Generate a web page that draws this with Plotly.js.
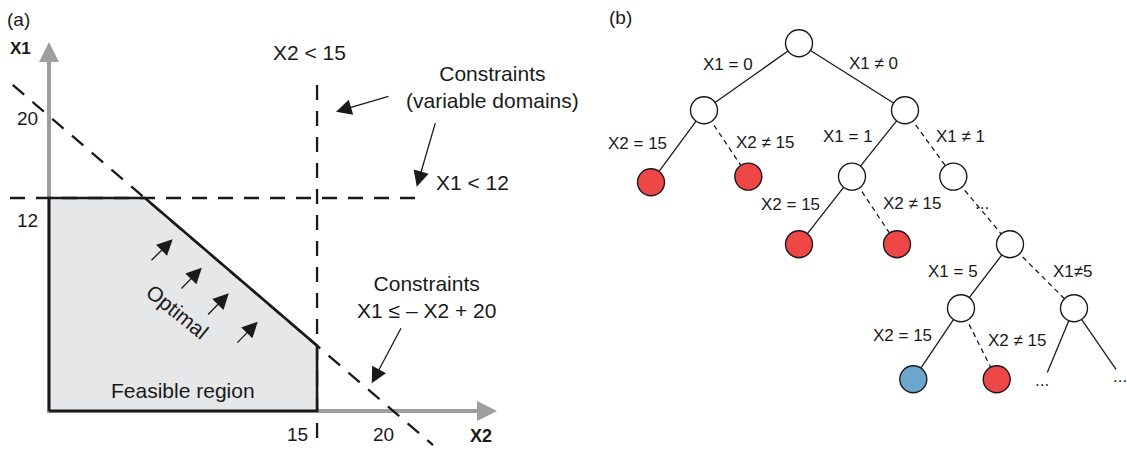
<!DOCTYPE html>
<html><head><meta charset="utf-8">
<script src="https://cdn.plot.ly/plotly-3.0.1.min.js"></script>
<style>html,body{margin:0;padding:0;background:#fff}</style>
</head><body>
<div id="chart" style="width:1127px;height:450px"></div>
<script>
// ---------- Panel (a): schematic units (X2 horizontal, X1 vertical) ----------
const feasibleX2 = [0, 0, 5.37, 15, 15, 0];
const feasibleX1 = [0, 12, 12, 3.68, 0, 0];
const limitX1_X2 = [-2.18, 21.04];   // X1 < 12 dashed line
const limitX1_X1 = [12, 12];
const limitX2_X2 = [15, 15];         // X2 < 15 dashed line
const limitX2_X1 = [18.37, -1.8];
const sumLineX2 = [-2.03, 21.49];    // X1 <= -X2 + 20 dashed line
const sumLineX1 = [18.37, -1.92];
const axisX2Line = [[-0.12, 23.6], [0, 0]];
const axisX1Line = [[0, 0], [-0.12, 19.6]];
const axisTipX2 = 25.07, axisTipX1 = 20.79;
const optTailX2 = [5.65, 7.33, 8.82, 10.46];
const optTailX1 = [8.41, 6.82, 5.35, 3.77];
const optTipX2 = [6.92, 8.55, 10.06, 11.68];
const optTipX1 = [9.67, 8.07, 6.63, 5.03];
const calloutTailX2 = [19.08, 21.64, 19.74];
const calloutTailX1 = [17.75, 16.3, 4.75];
const calloutTipX2 = [16.06, 20.58, 18.06];
const calloutTipX1 = [16.86, 12.64, 1.56];
const tickText = ['20', '12', '15', '20'];
const tickX2 = [-1.23, -1.21, 13.9, 18.71];
const tickX1 = [16.5, 10.76, -1.32, -1.32];
const labelTextA = ['X2 < 15', 'X1 < 12', 'Constraints<br>(variable domains)', 'Constraints<br>X1 ≤ – X2 + 20', 'Feasible region'];
const labelX2A = [14.6, 23.67, 24.79, 21.14, 7.47];
const labelX1A = [20.2, 12.87, 18.25, 6.42, 1.18];

// ---------- Panel (b): search tree ----------
const nodeX = [0, -95, 106, -148, -50.7, 53, 154.3, 0, 98, 211, 162, 275, 114.3, 197.7];
const nodeDepth = [0, 1, 1, 2.075, 1.99, 1.99, 1.99, 3.0, 3.0, 3.0, 3.955, 3.955, 5.015, 5.015];
const nodeState = ['open','open','open','fail','fail','open','open','fail','fail','open','open','open','solution','fail'];
const edgeFrom = [0, 0, 1, 1, 2, 2, 5, 5, 6, 9, 9, 10, 10];
const edgeTo   = [1, 2, 3, 4, 5, 6, 7, 8, 9, 10, 11, 12, 13];
const edgeDashed = [false, false, false, true, false, true, false, true, true, false, true, false, true];
const openEndFrom = [11, 11];
const openEndX = [248.3, 317];
const openEndDepth = [4.913, 4.866];
const edgeLabelText = ['X1 = 0', 'X1 ≠ 0', 'X2 = 15', 'X2 ≠ 15', 'X1 = 1', 'X1 ≠ 1', 'X2 = 15', 'X2 ≠ 15', '...', 'X1 = 5', 'X1≠5', 'X2 = 15', 'X2 ≠ 15', '...', '...'];
const edgeLabelX = [-71, 74, -162, -34, 48.5, 161, -9, 113, 183, 154, 274, 103, 218, 243, 321];
const edgeLabelDepth = [0.324, 0.3, 1.503, 1.488, 1.384, 1.384, 2.41, 2.388, 2.39, 3.41, 3.41, 4.364, 4.43, 5.03, 4.98];

const FONT = 'Liberation Sans, Arial, Helvetica, sans-serif';
const INK = '#1a1a1a';
const GRAY = '#9e9e9e';
const stateColor = {open: '#ffffff', fail: '#ef4748', solution: '#6ca6cc'};

const traces = [];
// feasible region fill
traces.push({x: feasibleX2, y: feasibleX1, xaxis: 'x', yaxis: 'y', mode: 'lines', fill: 'toself',
  fillcolor: '#e6e7e9', line: {width: 0, color: 'rgba(0,0,0,0)'}, hoverinfo: 'skip'});
// gray axes
traces.push({x: axisX2Line[0], y: axisX2Line[1], xaxis: 'x', yaxis: 'y', mode: 'lines', line: {color: GRAY, width: 4}, hoverinfo: 'skip'});
traces.push({x: axisX1Line[0], y: axisX1Line[1], xaxis: 'x', yaxis: 'y', mode: 'lines', line: {color: GRAY, width: 4}, hoverinfo: 'skip'});
// dashed constraint lines
const dashA = {color: INK, width: 2.3, dash: '15px,11px'};
traces.push({x: limitX1_X2, y: limitX1_X1, xaxis: 'x', yaxis: 'y', mode: 'lines', line: dashA, hoverinfo: 'skip'});
traces.push({x: limitX2_X2, y: limitX2_X1, xaxis: 'x', yaxis: 'y', mode: 'lines', line: dashA, hoverinfo: 'skip'});
traces.push({x: sumLineX2, y: sumLineX1, xaxis: 'x', yaxis: 'y', mode: 'lines', line: dashA, hoverinfo: 'skip'});
// feasible outline
traces.push({x: feasibleX2, y: feasibleX1, xaxis: 'x', yaxis: 'y', mode: 'lines', line: {color: INK, width: 2.6}, hoverinfo: 'skip'});

// tree edges
const solidX = [], solidY = [], dashX = [], dashY = [];
edgeFrom.forEach((f, i) => {
  const t = edgeTo[i];
  const X = edgeDashed[i] ? dashX : solidX, Y = edgeDashed[i] ? dashY : solidY;
  X.push(nodeX[f], nodeX[t], null); Y.push(nodeDepth[f], nodeDepth[t], null);
});
openEndFrom.forEach((f, i) => {
  solidX.push(nodeX[f], openEndX[i], null); solidY.push(nodeDepth[f], openEndDepth[i], null);
});
traces.push({x: solidX, y: solidY, xaxis: 'x2', yaxis: 'y2', mode: 'lines', line: {color: INK, width: 1.3}, hoverinfo: 'skip'});
traces.push({x: dashX, y: dashY, xaxis: 'x2', yaxis: 'y2', mode: 'lines', line: {color: INK, width: 1.3, dash: '5px,4px'}, hoverinfo: 'skip'});
traces.push({x: nodeX, y: nodeDepth, xaxis: 'x2', yaxis: 'y2', mode: 'markers',
  marker: {size: 27, color: nodeState.map(s => stateColor[s]), line: {color: INK, width: 1.4}}, hoverinfo: 'skip'});

const ann = [];
const txt = (x, y, text, size, xr, yr, extra) => Object.assign({x, y, text, xref: xr, yref: yr, showarrow: false,
  xanchor: 'center', yanchor: 'middle', font: {family: FONT, size, color: INK}}, extra || {});
// panel titles
ann.push(txt(-1.68, 22.08, '(a)', 19, 'x', 'y'));
ann.push(txt(-179, -0.38, '(b)', 19, 'x2', 'y2'));
// axis names
ann.push(txt(-1.57, 20.45, '<b>X1</b>', 17, 'x', 'y'));
ann.push(txt(24.2, -1.41, '<b>X2</b>', 18, 'x', 'y'));
tickText.forEach((t, i) => ann.push(txt(tickX2[i], tickX1[i], t, 19, 'x', 'y')));
labelTextA.forEach((t, i) => ann.push(txt(labelX2A[i], labelX1A[i], t, 21, 'x', 'y')));
ann.push(txt(7.16, 5.58, 'Optimal', 21, 'x', 'y', {textangle: 39}));
// axis arrowheads
ann.push({x: axisTipX2, y: 0, ax: axisTipX2 - 2, ay: 0, xref: 'x', yref: 'y', axref: 'x', ayref: 'y', text: '',
  showarrow: true, arrowhead: 2, arrowsize: 1, arrowwidth: 4, arrowcolor: GRAY, standoff: 0});
ann.push({x: 0, y: axisTipX1, ax: 0, ay: axisTipX1 - 2, xref: 'x', yref: 'y', axref: 'x', ayref: 'y', text: '',
  showarrow: true, arrowhead: 2, arrowsize: 1, arrowwidth: 4, arrowcolor: GRAY, standoff: 0});
// optimal direction arrows
optTipX2.forEach((v, i) => ann.push({x: v, y: optTipX1[i], ax: optTailX2[i], ay: optTailX1[i], xref: 'x', yref: 'y',
  axref: 'x', ayref: 'y', text: '', showarrow: true, arrowhead: 2, arrowsize: 2.4, arrowwidth: 1.3, arrowcolor: INK, standoff: 0}));
// callout arrows
calloutTipX2.forEach((v, i) => ann.push({x: v, y: calloutTipX1[i], ax: calloutTailX2[i], ay: calloutTailX1[i], xref: 'x', yref: 'y',
  axref: 'x', ayref: 'y', text: '', showarrow: true, arrowhead: 2, arrowsize: 2.4, arrowwidth: 1.3, arrowcolor: INK, standoff: 0}));
// tree labels
edgeLabelText.forEach((t, i) => ann.push(txt(edgeLabelX[i], edgeLabelDepth[i], t, 17, 'x2', 'y2')));

const hidden = {visible: false, fixedrange: true};
const layout = {
  width: 1127, height: 450, margin: {l: 0, r: 0, t: 0, b: 0},
  paper_bgcolor: '#fff', plot_bgcolor: '#fff', showlegend: false,
  xaxis: Object.assign({domain: [0, 0.5], range: [-2.742, 28.79]}, hidden),
  yaxis: Object.assign({domain: [0, 1], range: [-2.197, 23.155]}, hidden),
  xaxis2: Object.assign({domain: [0.5, 1], range: [-235.5, 328]}, hidden),
  yaxis2: Object.assign({domain: [0, 1], range: [6.07, -0.646]}, hidden),
  annotations: ann
};
Plotly.newPlot('chart', traces, layout, {staticPlot: true, displayModeBar: false});
</script>
</body></html>
